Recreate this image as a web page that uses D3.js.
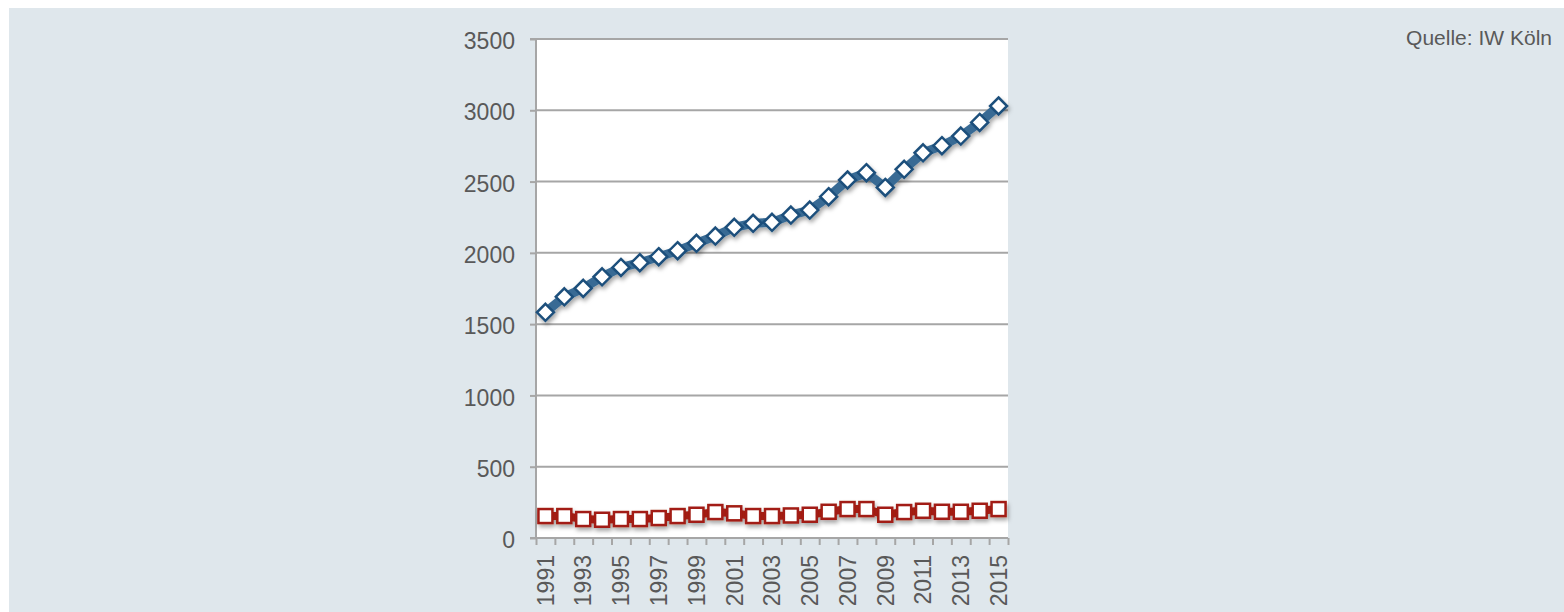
<!DOCTYPE html>
<html><head><meta charset="utf-8">
<script src="https://cdn.jsdelivr.net/npm/d3@7"></script>
<style>html,body{margin:0;padding:0;background:#fff;}svg{display:block;}</style>
</head><body>
<script>
const years = ["1991","1992","1993","1994","1995","1996","1997","1998","1999","2000","2001","2002","2003","2004","2005","2006","2007","2008","2009","2010","2011","2012","2013","2014","2015"];
const seriesBlue = [1583,1692,1751,1832,1898,1931,1973,2015,2067,2118,2179,2207,2214,2265,2300,2394,2511,2562,2459,2586,2702,2752,2819,2915,3030];
const seriesRed = [154,154,133,128,133,133,140,154,163,182,173,154,154,158,163,184,203,203,163,182,191,184,184,191,203];
const yTicks = [0,500,1000,1500,2000,2500,3000,3500];
const xLabels = years.filter((d,i)=>i%2===0);
const sourceText = "Quelle: IW Köln";

const W=1564,H=612;
const svg=d3.select("body").append("svg").attr("width",W).attr("height",H);
svg.append("rect").attr("x",9).attr("y",8).attr("width",W-9).attr("height",H-8).attr("fill","#dfe7ec");

const defs=svg.append("defs");
const f=defs.append("filter").attr("id","sh").attr("x","-20%").attr("y","-20%").attr("width","140%").attr("height","160%");
f.append("feDropShadow").attr("dx",1.5).attr("dy",3).attr("stdDeviation",2).attr("flood-color","#000").attr("flood-opacity",0.35);

const L=536,R=1008,T=39,B=538;
svg.append("rect").attr("x",L).attr("y",T).attr("width",R-L).attr("height",B-T).attr("fill","#fff");

const x=d3.scaleBand().domain(years).range([L,R]).padding(0);
const y=d3.scaleLinear().domain([0,3500]).range([B,T]);
const font="'Liberation Sans', Arial, Helvetica, sans-serif";

// grid
svg.append("g").selectAll("line").data(yTicks.filter(d=>d>0)).join("line")
  .attr("x1",L).attr("x2",R).attr("y1",d=>y(d)).attr("y2",d=>y(d))
  .attr("stroke","#a6a6a6").attr("stroke-width",2);

// y axis
const ya=svg.append("g").attr("transform",`translate(${L},0)`)
  .call(d3.axisLeft(y).tickValues(yTicks).tickFormat(d3.format("d")).tickSize(6).tickPadding(15));
ya.select(".domain").attr("stroke","#a6a6a6").attr("stroke-width",2).attr("d",`M-6,${T}H0V${B}H-6`);
ya.selectAll(".tick line").attr("stroke","#a6a6a6").attr("stroke-width",2);
ya.selectAll(".tick text").attr("font-family",font).attr("font-size",23).attr("fill","#595959").attr("dy","0.42em");

// x boundary ticks
const xb=d3.scaleLinear().domain([0,years.length]).range([L,R]);
const xa=svg.append("g").attr("transform",`translate(0,${B})`)
  .call(d3.axisBottom(xb).tickValues(d3.range(0,years.length+1)).tickSize(7).tickFormat(""));
xa.select(".domain").attr("stroke","#a6a6a6").attr("stroke-width",2).attr("d",`M${L},0H${R}`);
xa.selectAll(".tick line").attr("stroke","#a6a6a6").attr("stroke-width",2);

// x labels
const xl=svg.append("g").attr("transform",`translate(0,${B})`)
  .call(d3.axisBottom(x).tickValues(xLabels).tickSize(0));
xl.select(".domain").remove();
xl.selectAll(".tick text").attr("font-family",font).attr("font-size",23).attr("fill","#595959")
  .attr("transform","rotate(-90)").attr("text-anchor","end").attr("x",-17).attr("y",0).attr("dy","0.36em");

const cx=d=>x(d)+x.bandwidth()/2;
const line=d3.line().x(d=>cx(d[0])).y(d=>y(d[1]));

// red series
const gRed=svg.append("g").attr("filter","url(#sh)");
gRed.append("path").datum(years.map((d,i)=>[d,seriesRed[i]])).attr("d",line)
  .attr("fill","none").attr("stroke","#a21d12").attr("stroke-width",8);
gRed.selectAll("rect").data(years.map((d,i)=>[d,seriesRed[i]])).join("rect")
  .attr("x",d=>cx(d[0])-7).attr("y",d=>y(d[1])-7).attr("width",14).attr("height",14)
  .attr("fill","#fff").attr("stroke","#a21d12").attr("stroke-width",2.5);

// blue series
const gBlue=svg.append("g").attr("filter","url(#sh)");
gBlue.append("path").datum(years.map((d,i)=>[d,seriesBlue[i]])).attr("d",line)
  .attr("fill","none").attr("stroke","#386b94").attr("stroke-width",9);
gBlue.selectAll("path.m").data(years.map((d,i)=>[d,seriesBlue[i]])).join("path").attr("class","m")
  .attr("d",d=>{const X=cx(d[0]),Y=y(d[1]),r=8.5;return `M${X},${Y-r}L${X+r},${Y}L${X},${Y+r}L${X-r},${Y}Z`;})
  .attr("fill","#fff").attr("stroke","#1d4f7b").attr("stroke-width",2.5);

svg.append("text").attr("x",1552).attr("y",45).attr("text-anchor","end")
  .attr("font-family",font).attr("font-size",21).attr("fill","#595959").text(sourceText);
</script>
</body></html>
